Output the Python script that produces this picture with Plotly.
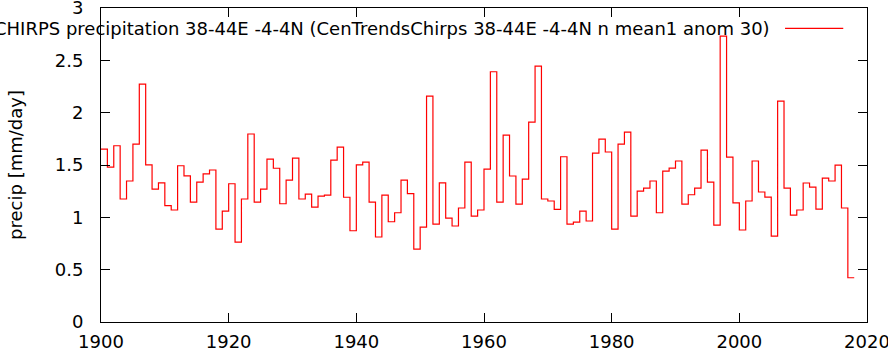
import plotly.graph_objects as go

years = list(range(1900, 2018))
precip = [
    1.652, 1.480, 1.684, 1.175, 1.347, 1.700, 2.273, 1.502, 1.270, 1.330,  # 1900-1909
    1.111, 1.070, 1.493, 1.396, 1.146, 1.337, 1.415, 1.452, 0.888, 1.060,  # 1910-1919
    1.321, 0.764, 1.175, 1.796, 1.146, 1.270, 1.557, 1.469, 1.130, 1.356,  # 1920-1929
    1.565, 1.175, 1.222, 1.098, 1.202, 1.213, 1.547, 1.671, 1.192, 0.872,  # 1930-1939
    1.501, 1.528, 1.146, 0.812, 1.213, 0.958, 1.044, 1.356, 1.226, 0.697,  # 1940-1949
    0.907, 2.158, 0.936, 1.330, 0.993, 0.917, 1.089, 1.528, 1.012, 1.070,  # 1950-1959
    1.461, 2.391, 1.146, 1.786, 1.395, 1.127, 1.366, 1.910, 2.445, 1.175,  # 1960-1969
    1.156, 1.076, 1.579, 0.936, 0.955, 1.060, 0.965, 1.614, 1.748, 1.624,  # 1970-1979
    0.888, 1.700, 1.815, 1.012, 1.251, 1.280, 1.347, 1.044, 1.442, 1.471,  # 1980-1989
    1.538, 1.127, 1.216, 1.280, 1.643, 1.337, 0.926, 2.732, 1.576, 1.139,  # 1990-1999
    0.879, 1.156, 1.538, 1.242, 1.194, 0.821, 2.111, 1.280, 1.022, 1.070,  # 2000-2009
    1.328, 1.289, 1.079, 1.375, 1.347, 1.499, 1.089, 0.423,                # 2010-2017
]

legend_text = "CHIRPS precipitation 38-44E -4-4N (CenTrendsChirps 38-44E -4-4N n mean1 anom 30)"
x_ticks = [1900, 1920, 1940, 1960, 1980, 2000, 2020]
y_ticks = [0, 0.5, 1, 1.5, 2, 2.5, 3]
y_tick_labels = ["0", "0.5", "1", "1.5", "2", "2.5", "3"]

# step from year to year+1
xs = years + [years[-1] + 1]
ys = precip + [precip[-1]]

FONT = "DejaVu Sans"
RED = "#ff0000"
FS = 18

fig = go.Figure()
fig.add_trace(go.Scatter(
    x=xs, y=ys, mode="lines",
    line=dict(color=RED, width=1.2, shape="hv"),
    showlegend=False, hoverinfo="skip",
))

fig.update_layout(
    width=888, height=351,
    margin=dict(l=101, r=21, t=8, b=29),
    paper_bgcolor="white", plot_bgcolor="white",
    font=dict(family=FONT, size=FS, color="black"),
    showlegend=False,
)
fig.update_xaxes(
    range=[1900, 2020], tickvals=x_ticks, ticktext=[str(v) for v in x_ticks],
    ticks="inside", ticklen=9, tickwidth=1, tickcolor="black",
    showline=True, linecolor="black", linewidth=1, mirror="ticks",
    showgrid=False, zeroline=False, tickfont=dict(size=FS),
    ticklabeloverflow="allow", ticklabelstandoff=3, automargin=False,
)
fig.update_yaxes(
    range=[0, 3], tickvals=y_ticks, ticktext=y_tick_labels,
    ticks="inside", ticklen=9, tickwidth=1, tickcolor="black",
    showline=True, linecolor="black", linewidth=1, mirror="ticks",
    showgrid=False, zeroline=False, tickfont=dict(size=FS),
    ticklabeloverflow="allow", ticklabelstandoff=13, automargin=False,
    title=dict(text="precip [mm/day]", font=dict(size=FS), standoff=27),
)

# key (gnuplot-style): text right-aligned, followed by a red sample line
fig.add_annotation(
    x=0.876, y=0.936, xref="paper", yref="paper", text=legend_text,
    showarrow=False, xanchor="right", yanchor="middle",
    font=dict(size=FS, color="black", family=FONT),
)
fig.add_shape(
    type="line", xref="paper", yref="paper",
    x0=0.893, x1=0.969, y0=0.935, y1=0.935,
    line=dict(color=RED, width=1.2),
)

fig.write_html("out.html")
